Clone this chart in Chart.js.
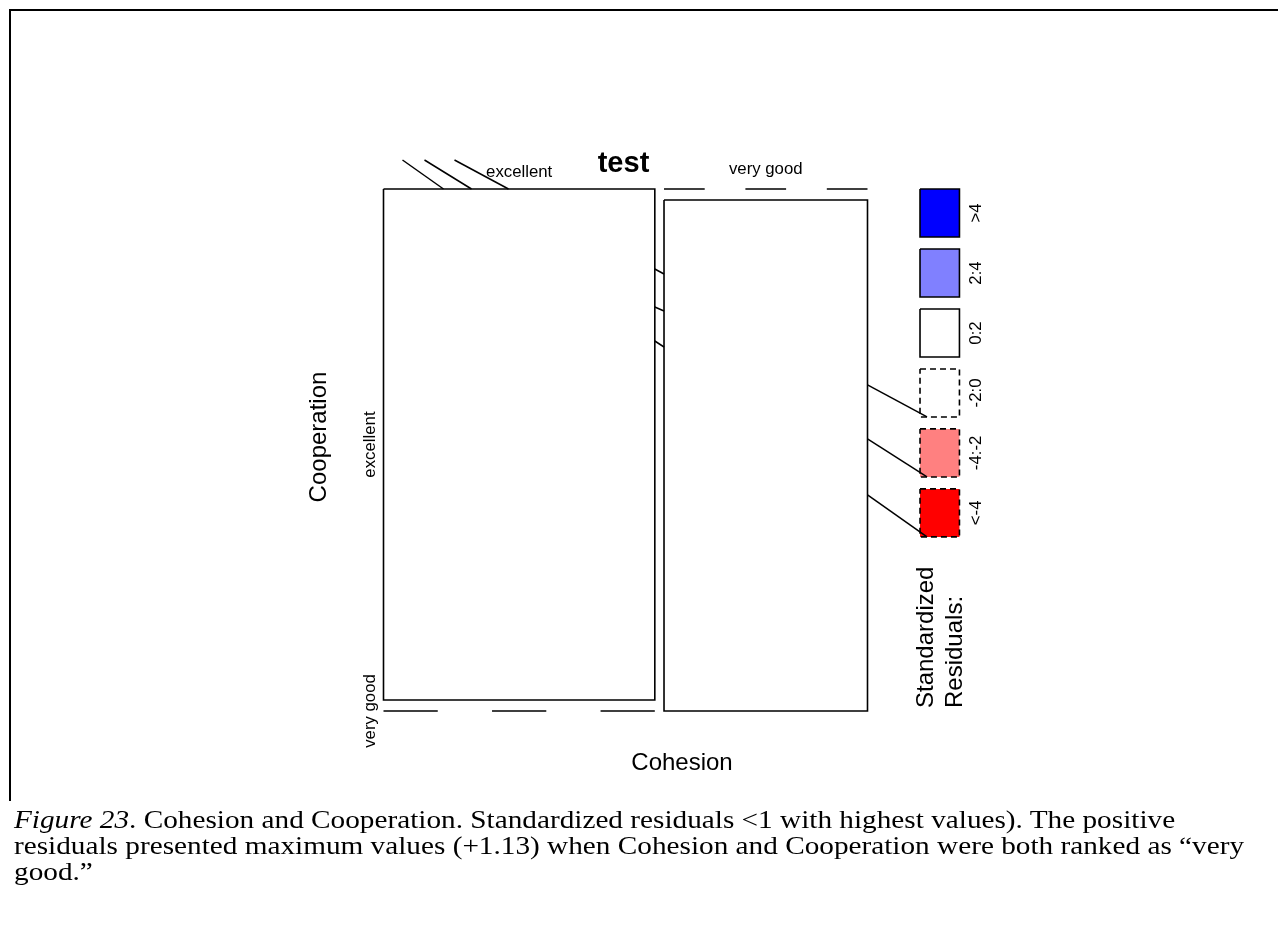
<!DOCTYPE html>
<html>
<head>
<meta charset="utf-8">
<script src="https://cdn.jsdelivr.net/npm/chart.js@4"></script>
<style>
  body { margin: 0; background: #fff; }
  #wrap { position: relative; width: 1278px; height: 934px; overflow: hidden; }
  #frame { position: absolute; left: 9px; top: 9px; width: 1300px; height: 790px;
           border-left: 2px solid #000; border-top: 2px solid #000; }
  canvas { position: absolute; left: 0; top: 0; }
  #caption { position: absolute; left: 14px; top: 807px; font-family: "Liberation Serif", "Times New Roman", serif;
             font-size: 26px; line-height: 26px; white-space: nowrap; color: #000;
             transform: scaleX(1.125); transform-origin: 0 0; }
</style>
</head>
<body>
<div id="wrap">
  <div id="frame"></div>
  <canvas id="mosaic" width="1278" height="934"></canvas>
  <div id="caption">
    <i>Figure 23</i>. Cohesion and Cooperation. Standardized residuals &lt;1 with highest values). The positive<br>
    residuals presented maximum values (+1.13) when Cohesion and Cooperation were both ranked as “very<br>
    good.”
  </div>
</div>
<script>
// Contingency table: Cohesion (columns) x Cooperation (rows)
const cohesion = ["excellent", "very good"];
const cooperation = ["excellent", "very good"];
const counts = [[4, 0], [0, 3]]; // counts[cohesion][cooperation]

// Shading bins for the standardized residuals
const shadeLabels = [">4", "2:4", "0:2", "-2:0", "-4:-2", "<-4"];
const shadeLower = [4, 2, 0, -2, -4, -Infinity];
const shadeColors = ["#0000ff", "#8080ff", "#ffffff", "#ffffff", "#ff8080", "#ff0000"];

// Where the mosaic sits on the page (px) and the gaps between tiles (fraction)
const W = 1278, H = 934;
const box = { left: 383.5, top: 189, width: 484, height: 522 };
const gapX = 0.019, gapY = 0.021;

// Totals and Pearson residuals
const n = counts.flat().reduce((a, b) => a + b, 0);
const colTot = counts.map(c => c.reduce((a, b) => a + b, 0));
const rowTot = cooperation.map((_, j) => counts.reduce((a, c) => a + c[j], 0));
const residual = (i, j) => {
    const e = colTot[i] * rowTot[j] / n;
    return (counts[i][j] - e) / Math.sqrt(e);
};
const shadeIndex = r => shadeLower.findIndex(lo => r > lo);

// Build tile rectangles in mosaic units (0..1)
const tiles = [];
let xPos = 0;
cohesion.forEach((_, i) => {
    const w = (1 - gapX * (cohesion.length - 1)) * colTot[i] / n;
    let yPos = 0;
    cooperation.forEach((_, j) => {
        const h = (1 - gapY * (cooperation.length - 1)) * counts[i][j] / colTot[i];
        tiles.push({ i, j, x0: xPos, x1: xPos + w, y0: yPos, y1: yPos + h, res: residual(i, j) });
        yPos += h + gapY;
    });
    xPos += w + gapX;
});

const rectPoints = (x0, y0, x1, y1) => [
    { x: x0, y: y0 }, { x: x1, y: y0 }, { x: x1, y: y1 }, { x: x0, y: y1 }, { x: x0, y: y0 }
];

const datasets = [];
tiles.forEach(t => {
    const k = shadeIndex(t.res);
    if (t.y1 - t.y0 <= 0) {
        // empty cell: drawn as a dashed line
        datasets.push({
            data: [{ x: t.x0, y: t.y0 }, { x: t.x1, y: t.y0 }],
            borderColor: "#000", borderWidth: 1.6, fill: false,
            borderDash: ctx => {
                const a = ctx.chart.scales.x;
                if (!a) return [];
                const len = Math.abs(a.getPixelForValue(t.x1) - a.getPixelForValue(t.x0)) / 5;
                return [len, len];
            }
        });
    } else {
        datasets.push({
            data: rectPoints(t.x0, t.y0, t.x1, t.y1),
            borderColor: "#000", borderWidth: 1.6,
            backgroundColor: shadeColors[k], fill: "shape",
            borderDash: t.res < 0 ? [6, 4] : []
        });
    }
});

// Legend boxes (mosaic units)
const legX0 = 1.1085, legX1 = 1.19, legStep = 0.1149, legH = 0.092;
shadeLabels.forEach((lab, k) => {
    const y0 = k * legStep;
    datasets.push({
        data: rectPoints(legX0, y0, legX1, y0 + legH),
        borderColor: "#000", borderWidth: 1.6,
        backgroundColor: shadeColors[k], fill: "shape",
        borderDash: shadeLower[k] < 0 ? [6, 4] : []
    });
});

function rotText(ctx, txt, x, y, align, baseline) {
    ctx.save();
    ctx.translate(x, y);
    ctx.rotate(-Math.PI / 2);
    ctx.textAlign = align;
    ctx.textBaseline = baseline;
    ctx.fillText(txt, 0, 0);
    ctx.restore();
}

function line(ctx, x0, y0, x1, y1) {
    ctx.beginPath();
    ctx.moveTo(x0, y0);
    ctx.lineTo(x1, y1);
    ctx.stroke();
}

const decor = {
    id: "decor",
    afterDatasetsDraw(chart) {
        const { ctx, scales: { x, y } } = chart;
        const px = v => x.getPixelForValue(v), py = v => y.getPixelForValue(v);
        const left = tiles.find(t => t.i === 0), right = tiles.find(t => t.i === 1);
        const leftL = px(left.x0), leftR = px(left.x1), rightL = px(right.x0), rightR = px(right.x1);
        const top = py(0), bottom = py(1);

        ctx.save();
        ctx.fillStyle = "#000";
        ctx.strokeStyle = "#000";
        ctx.lineWidth = 1.5;

        // title
        ctx.font = "bold 29px Arial, 'Liberation Sans', sans-serif";
        ctx.textAlign = "center";
        ctx.textBaseline = "alphabetic";
        ctx.fillText("test", px(0.5) - 2, top - 17);

        // level labels
        ctx.font = "16.8px Arial, 'Liberation Sans', sans-serif";
        ctx.fillText(cohesion[0], (leftL + leftR) / 2, top - 12);
        ctx.fillText(cohesion[1], (rightL + rightR) / 2, top - 15);
        const exc = tiles.find(t => t.i === 0 && t.j === 0);
        rotText(ctx, cooperation[0], leftL - 9, (py(exc.y0) + py(exc.y1)) / 2, "center", "alphabetic");
        rotText(ctx, cooperation[1], leftL - 9, bottom, "center", "alphabetic");

        // variable names
        ctx.font = "24px Arial, 'Liberation Sans', sans-serif";
        ctx.textAlign = "center";
        ctx.fillText("Cohesion", 682, bottom + 59);
        rotText(ctx, "Cooperation", leftL - 58, 437, "center", "alphabetic");

        // stray label lines above the first column and in the column gap
        [[19, 60], [41, 88], [71, 125]].forEach(([a, b]) => line(ctx, leftL + a, top - 29, leftL + b, top));
        [[80, 85], [118, 122], [152, 158]].forEach(([a, b]) => line(ctx, leftR, top + a, rightL, top + b));

        // legend labels and leader lines
        ctx.font = "16.8px Arial, 'Liberation Sans', sans-serif";
        shadeLabels.forEach((lab, k) => {
            const yc = py(k * legStep + legH / 2);
            rotText(ctx, lab, px(legX1) + 22, yc, "center", "alphabetic");
        });
        [[3, 32], [4, 38], [5, 42]].forEach(([k, d]) => {
            const yb = py(k * legStep + legH);
            line(ctx, rightR, yb - d, px(legX0) + 7, yb);
        });
        ctx.font = "24px Arial, 'Liberation Sans', sans-serif";
        rotText(ctx, "Standardized", px(legX0) + 13, bottom - 3, "left", "alphabetic");
        rotText(ctx, "Residuals:", px(legX0) + 42, bottom - 3, "left", "alphabetic");
        ctx.restore();
    }
};

new Chart(document.getElementById("mosaic").getContext("2d"), {
    type: "scatter",
    data: { datasets: datasets.map(d => ({ showLine: true, pointRadius: 0, tension: 0, ...d })) },
    options: {
        responsive: false,
        animation: false,
        devicePixelRatio: 1,
        layout: { padding: 0 },
        plugins: { legend: { display: false }, tooltip: { enabled: false }, title: { display: false } },
        scales: {
            x: { type: "linear", display: false, min: -box.left / box.width, max: (W - box.left) / box.width },
            y: { type: "linear", display: false, reverse: true, min: -box.top / box.height, max: (H - box.top) / box.height }
        }
    },
    plugins: [decor]
});
</script>
</body>
</html>
